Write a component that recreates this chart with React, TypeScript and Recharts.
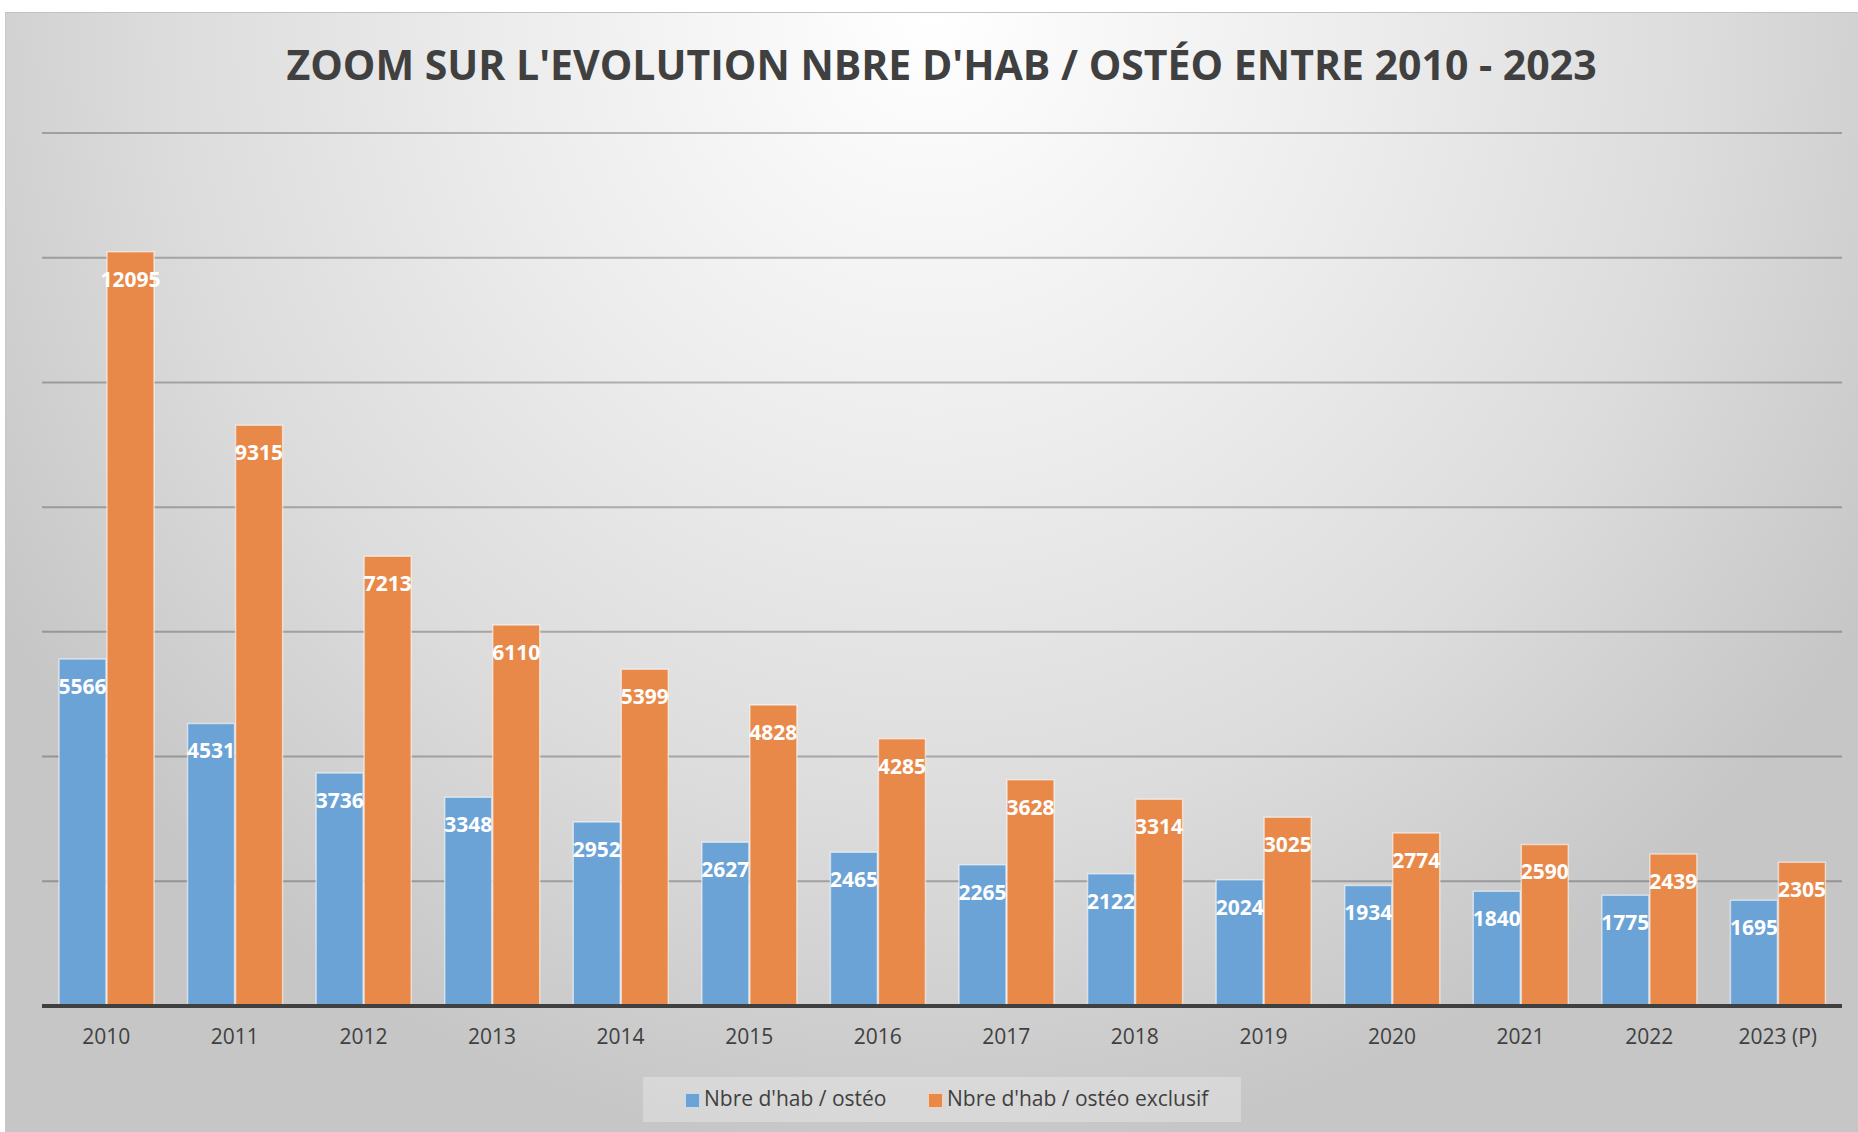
import { Bar, BarChart, CartesianGrid, LabelList, XAxis, YAxis } from "recharts"

const years = ["2010", "2011", "2012", "2013", "2014", "2015", "2016", "2017", "2018", "2019", "2020", "2021", "2022", "2023 (P)"]
const habOsteo = [5566, 4531, 3736, 3348, 2952, 2627, 2465, 2265, 2122, 2024, 1934, 1840, 1775, 1695]
const habOsteoExclusif = [12095, 9315, 7213, 6110, 5399, 4828, 4285, 3628, 3314, 3025, 2774, 2590, 2439, 2305]
const yTicks = [0, 2000, 4000, 6000, 8000, 10000, 12000, 14000]

const seriesNames = ["Nbre d'hab / ostéo", "Nbre d'hab / ostéo exclusif"]
const BLUE = "#6ba3d6"
const ORANGE = "#e8894a"
const TEXT = "#404040"
const FONT = "'Open Sans', sans-serif"

const data = years.map((year, i) => ({
  year,
  osteo: habOsteo[i],
  exclusif: habOsteoExclusif[i],
}))

export default function App() {
  return (
    <div style={{ position: "absolute", left: 0, top: 0, width: 1858, height: 1132, background: "#fff", fontFamily: FONT }}>
      <div
        style={{
          position: "absolute",
          left: 5,
          top: 12,
          width: 1853,
          height: 1120,
          borderTop: "1px solid #c2c2c2",
          borderLeft: "1px solid #c8c8c8",
          boxSizing: "border-box",
          background:
            "radial-gradient(ellipse 1100px 1150px at 50% 0%, #ffffff 0%, #ececec 40%, #dcdcdc 70%, #c6c6c6 100%)",
        }}
      />

      <div
        style={{
          position: "absolute",
          left: 0,
          top: 34,
          width: 1883,
          textAlign: "center",
          fontSize: 41,
          fontWeight: 700,
          color: TEXT,
          lineHeight: "60px",
          whiteSpace: "nowrap",
        }}
      >
        ZOOM SUR L'EVOLUTION NBRE D'HAB / OSTÉO ENTRE 2010 - 2023
      </div>

      <div style={{ position: "absolute", left: 0, top: 0 }}>
        <BarChart
          width={1858}
          height={1132}
          data={data}
          margin={{ top: 133, right: 16, left: 42, bottom: 96 }}
          barGap={1}
          barSize={47}
          style={{ fontFamily: FONT }}
        >
          <CartesianGrid horizontal vertical={false} stroke="#000" strokeOpacity={0.25} strokeWidth={2} />
          <YAxis hide domain={[0, 14000]} ticks={yTicks} />
          <XAxis
            dataKey="year"
            height={30}
            axisLine={{ stroke: TEXT, strokeWidth: 4 }}
            tickLine={false}
            tickSize={0}
            tickMargin={23}
            tick={{ fill: TEXT, fontSize: 21 }}
            interval={0}
          />
          <Bar dataKey="osteo" name={seriesNames[0]} fill={BLUE} stroke="#ffffff" strokeOpacity={0.55} strokeWidth={1.5} isAnimationActive={false}>
            <LabelList dataKey="osteo" position="insideTop" offset={20} fill="#ffffff" fontSize={21} fontWeight={700} />
          </Bar>
          <Bar dataKey="exclusif" name={seriesNames[1]} fill={ORANGE} stroke="#ffffff" strokeOpacity={0.55} strokeWidth={1.5} isAnimationActive={false}>
            <LabelList dataKey="exclusif" position="insideTop" offset={20} fill="#ffffff" fontSize={21} fontWeight={700} />
          </Bar>
        </BarChart>
      </div>

      <div
        style={{
          position: "absolute",
          left: 643,
          top: 1077,
          width: 598,
          height: 45,
          background: "rgba(255,255,255,0.28)",
          fontSize: 21,
          color: TEXT,
          whiteSpace: "nowrap",
        }}
      >
        <span style={{ position: "absolute", left: 42, top: 16, width: 13, height: 13, background: BLUE, border: "1px solid rgba(255,255,255,0.6)" }} />
        <span style={{ position: "absolute", left: 61, top: 6, lineHeight: "30px" }}>{seriesNames[0]}</span>
        <span style={{ position: "absolute", left: 285, top: 16, width: 13, height: 13, background: ORANGE, border: "1px solid rgba(255,255,255,0.6)" }} />
        <span style={{ position: "absolute", left: 304, top: 6, lineHeight: "30px" }}>{seriesNames[1]}</span>
      </div>
    </div>
  )
}
